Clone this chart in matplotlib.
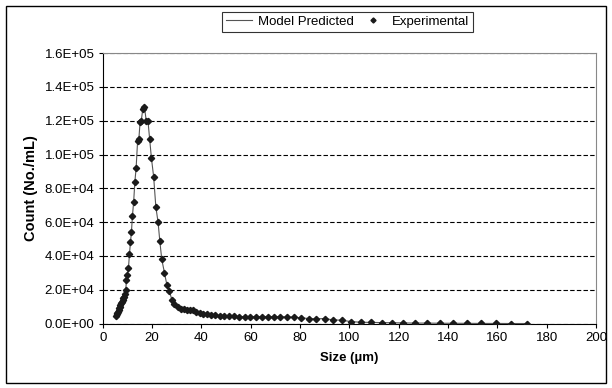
#!/usr/bin/env python

import numpy as np
import matplotlib
matplotlib.use('Agg')
import matplotlib.pyplot as plt
from matplotlib.ticker import FuncFormatter, MultipleLocator
from matplotlib.patches import Rectangle

matplotlib.rc('font', family=['Liberation Sans', 'DejaVu Sans'], size=9.5)

# Particle size (um) and count (No./mL)
size = [5.5, 5.7, 5.9, 6.2, 6.4, 6.6, 6.9, 7.1, 7.4, 7.7, 8.0, 8.3, 8.6, 8.9,
        9.3, 9.6, 10.0, 10.4, 10.8, 11.2, 11.6, 12.0, 12.5, 13.0, 13.5,
        14.1, 14.6, 15.1, 15.6, 16.2, 16.9, 17.6, 18.3, 19.0, 19.7, 20.6,
        21.5, 22.4, 23.1, 23.9, 25.0, 26.0, 27.0, 28.0, 29.0, 30.3, 31.5,
        32.8, 34.0, 35.3, 36.6, 37.9, 39.3, 40.8, 42.3, 43.9, 45.6, 47.4,
        49.3, 51.2, 53.2, 55.3, 57.5, 59.8, 62.1, 64.5, 66.9, 69.4, 72.0,
        74.7, 77.6, 80.5, 83.5, 86.6, 89.9, 93.3, 96.8, 100.5, 104.5, 108.7,
        113.0, 117.3, 121.8, 126.4, 131.4, 136.6, 142.0, 147.6, 153.4, 159.5,
        165.7, 171.8]
count = [0.45, 0.55, 0.62, 0.70, 0.80, 0.90, 1.00, 1.10, 1.20, 1.30, 1.40,
         1.50, 1.60, 1.75, 2.00, 2.60, 2.90, 3.30, 4.10, 4.80, 5.40, 6.35,
         7.20, 8.40, 9.20, 10.80, 10.90, 11.90, 12.00, 12.70, 12.80, 12.00,
         12.00, 10.90, 9.80, 8.70, 6.90, 6.00, 4.90, 3.80, 3.00, 2.27, 1.93,
         1.40, 1.13, 0.97, 0.88, 0.85, 0.82, 0.80, 0.80, 0.70, 0.64, 0.58,
         0.54, 0.50, 0.48, 0.47, 0.46, 0.44, 0.42, 0.41, 0.41, 0.41, 0.41,
         0.41, 0.41, 0.41, 0.40, 0.40, 0.38, 0.34, 0.30, 0.28, 0.30, 0.22,
         0.20, 0.12, 0.08, 0.07, 0.06, 0.05, 0.04, 0.03, 0.03, 0.02, 0.02,
         0.015, 0.01, 0.01, 0.005, 0.005]
count = np.array(count) * 1e4

fig = plt.figure(figsize=(6.12, 3.88), dpi=100)
ax = fig.add_axes([0.168, 0.166, 0.806, 0.697])

ax.plot(size, count, color='#555555', lw=0.8, label='Model Predicted', zorder=3)
ax.plot(size, count, ls='none', marker='D', ms=3.2, color='#1a1a1a',
        label='Experimental', zorder=4)

ax.set_xlim(0, 200)
ax.set_ylim(0, 1.6e5)
ax.xaxis.set_major_locator(MultipleLocator(20))
ax.yaxis.set_major_locator(MultipleLocator(2e4))
ax.yaxis.set_major_formatter(FuncFormatter(lambda v, p: '%.1E' % v))
ax.yaxis.grid(True, ls=(0, (4, 2)), color='black', lw=0.8)
ax.set_axisbelow(True)
ax.tick_params(direction='out', length=3, width=0.8, pad=3)

for s in ['top', 'right']:
    ax.spines[s].set_color('#888888')
    ax.spines[s].set_linewidth(0.8)
for s in ['left', 'bottom']:
    ax.spines[s].set_linewidth(0.8)

ax.set_xlabel('Size (µm)', fontweight='bold', labelpad=6)
ax.set_ylabel('Count (No./mL)', fontweight='bold', labelpad=5, fontsize=10.5)

leg = ax.legend(loc='center', bbox_to_anchor=(0.568, 0.944),
                bbox_transform=fig.transFigure, ncol=2, frameon=True,
                fancybox=False, edgecolor='black', handlelength=2.0,
                columnspacing=0.5, handletextpad=0.4, borderpad=0.3,
                markerscale=0.8, fontsize=9.5)
leg.get_frame().set_linewidth(0.8)

# outer chart border
fig.patches.append(Rectangle((0.009, 0.012), 0.981, 0.972, transform=fig.transFigure,
                             fill=False, edgecolor='black', lw=1.0))

fig.savefig('out.png', dpi=100)
